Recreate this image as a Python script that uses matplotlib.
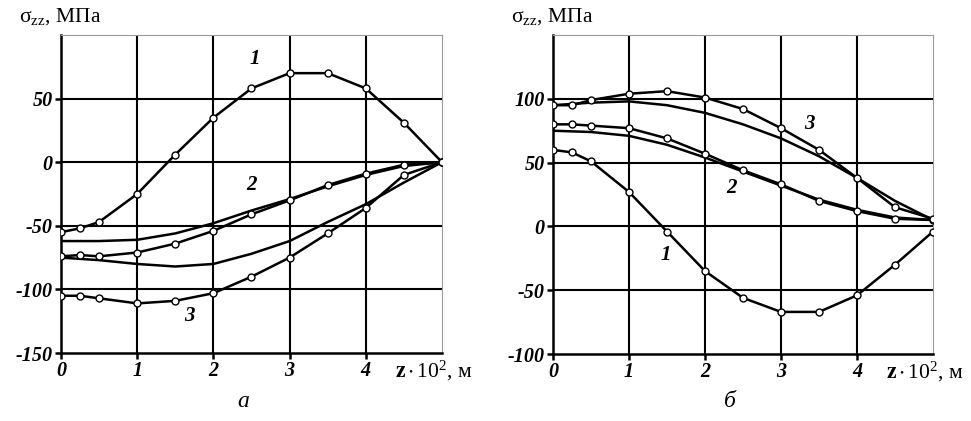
import numpy as np
import matplotlib.pyplot as plt

plt.rcParams['font.family'] = ['Liberation Serif', 'DejaVu Serif']
plt.rcParams['mathtext.fontset'] = 'stix'
plt.rcParams['axes.unicode_minus'] = False

# z * 10^2, m
z_pts = [0, 0.25, 0.5, 1, 1.5, 2, 2.5, 3, 3.5, 4, 4.5, 5]
z_line = [0, 0.5, 1, 1.5, 2, 2.5, 3, 3.5, 4, 4.5, 5]

# панель а
a1_pts = [-55, -52, -47, -25, 6, 35, 58, 70, 70, 58, 31, 0]
a2_pts = [-74, -73, -74, -71, -64, -54, -41, -30, -18, -9, -2, 0]
a3_pts = [-105, -105, -107, -111, -109, -103, -90, -75, -56, -36, -10, 0]
a2_line = [-62, -62, -61, -56, -48, -38, -29, -19, -10, -3, 0]
a3_line = [-75, -77, -80, -82, -80, -72, -62, -47, -33, -16, 0]

# панель б
b1_pts = [60, 58, 51, 27, -4, -35, -56, -67, -67, -54, -30, -4]
b2_pts = [80, 80, 79, 77, 69, 57, 44, 33, 20, 12, 6, 5]
b3_pts = [95, 95, 99, 104, 106, 101, 92, 77, 60, 38, 15, 6]
b2_line = [75, 74, 71, 64, 54, 43, 32, 21, 13, 7, 5]
b3_line = [95, 97, 98, 95, 89, 80, 69, 55, 38, 20, 5]

a_ylim = (-150, 100)
a_yticks = [-150, -100, -50, 0, 50]
b_ylim = (-100, 150)
b_yticks = [-100, -50, 0, 50, 100]

fig = plt.figure(figsize=(9.71, 4.21), dpi=100)
ax_a = fig.add_axes([0.0628, 0.1615, 0.3924, 0.7554])
ax_b = fig.add_axes([0.5695, 0.1591, 0.3914, 0.7577])


def oformit(ax, ylim, yticks):
    ax.set_xlim(0, 5)
    ax.set_ylim(*ylim)
    ax.set_xticks([0, 1, 2, 3, 4])
    ax.set_yticks(yticks)
    for y in yticks[1:]:
        ax.axhline(y, color='black', lw=1.5, zorder=1)
    for x in [1, 2, 3, 4]:
        ax.axvline(x, color='black', lw=1.5, zorder=1)
    ax.spines['left'].set_linewidth(1.8)
    ax.spines['bottom'].set_linewidth(1.8)
    ax.spines['top'].set_color('#9a9a9a')
    ax.spines['right'].set_color('#9a9a9a')
    ax.spines['top'].set_linewidth(0.8)
    ax.spines['right'].set_linewidth(0.8)
    ax.tick_params(direction='out', length=4, width=1.8, pad=2,
                   labelsize=14.5)
    for lab in ax.get_xticklabels() + ax.get_yticklabels():
        lab.set_fontweight('bold')
        lab.set_fontstyle('italic')
    ax.annotate(r'$\mathbf{z}\cdot\mathregular{10^2}$, м', xy=(4.38, ylim[0]),
                xytext=(0, -4), textcoords='offset points',
                ha='left', va='top', fontsize=15.5, annotation_clip=False)


def krivye(ax, p1, p2, p3, l2, l3):
    kw = dict(color='black', lw=1.8, zorder=3)
    mk = dict(marker='o', ms=5, mfc='white', mec='black', mew=1)
    ax.plot(z_line, l2, **kw)
    ax.plot(z_line, l3, **kw)
    ax.plot(z_pts, p1, **kw, **mk)
    ax.plot(z_pts, p2, **kw, **mk)
    ax.plot(z_pts, p3, **kw, **mk)


oformit(ax_a, a_ylim, a_yticks)
krivye(ax_a, a1_pts, a2_pts, a3_pts, a2_line, a3_line)
oformit(ax_b, b_ylim, b_yticks)
krivye(ax_b, b1_pts, b2_pts, b3_pts, b2_line, b3_line)

ff = dict(fontsize=15, fontstyle='italic', fontweight='bold', zorder=4)
ax_a.text(2.47, 77, '1', **ff)
ax_a.text(2.43, -22, '2', **ff)
ax_a.text(1.62, -125, '3', **ff)
ax_b.text(3.3, 76, '3', **ff)
ax_b.text(2.28, 26, '2', **ff)
ax_b.text(1.42, -26, '1', **ff)

for ax in (ax_a, ax_b):
    ax.text(-0.11, 1.025, r'$\mathregular{σ_{zz}}$, МПа',
            transform=ax.transAxes, ha='left', va='bottom', fontsize=15.5)

fig.text(0.250, 0.022, 'а', ha='center', va='bottom', fontsize=17,
         fontstyle='italic')
fig.text(0.752, 0.022, 'б', ha='center', va='bottom', fontsize=17,
         fontstyle='italic')

fig.savefig('out.png', dpi=100)
